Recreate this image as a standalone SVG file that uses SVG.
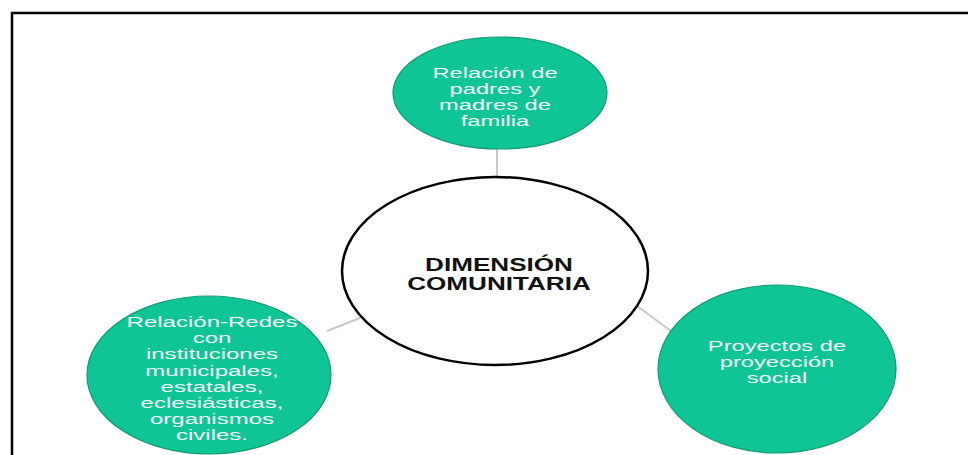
<svg xmlns="http://www.w3.org/2000/svg" width="968" height="455" viewBox="0 0 968 455">
<style>
.green{fill:#0fc596;stroke:#149a74;stroke-width:1.2}
.center{fill:#ffffff;stroke:#000000;stroke-width:2.5}
.conn{stroke:#c9c9c9;stroke-width:2;fill:none}
.gt{font-family:"Liberation Sans",Arial,sans-serif;font-size:15.5px;fill:#f3fbf8;text-anchor:middle}
.ct{font-family:"Liberation Sans",Arial,sans-serif;font-size:18px;font-weight:bold;fill:#111111;text-anchor:middle}
</style>
<rect width="968" height="455" fill="#ffffff"/>
<path d="M12,458 V13 H972" fill="none" stroke="#000" stroke-width="2.5"/>
<g id="connectors">
<line class="conn" x1="497" y1="149" x2="497" y2="178"/>
<line class="conn" x1="327" y1="331" x2="360" y2="318"/>
<line class="conn" x1="633" y1="303" x2="671" y2="331"/>
</g>
<g id="node-top">
<ellipse class="green" cx="500" cy="93" rx="107" ry="56"/>
<g transform="translate(495,0) scale(1.53,1)">
<text class="gt" x="0" y="78">Relación de</text>
<text class="gt" x="0" y="94">padres y</text>
<text class="gt" x="0" y="110">madres de</text>
<text class="gt" x="0" y="126">familia</text>
</g>
</g>
<g id="node-center">
<ellipse class="center" cx="495" cy="271" rx="153" ry="94"/>
<g transform="translate(499,0) scale(1.45,1)">
<text class="ct" x="0" y="271">DIMENSIÓN</text>
<text class="ct" x="0" y="290">COMUNITARIA</text>
</g>
</g>
<g id="node-left">
<ellipse class="green" cx="209" cy="375" rx="122" ry="79"/>
<g transform="translate(212,0) scale(1.55,1)">
<text class="gt" x="0" y="327">Relación-Redes</text>
<text class="gt" x="0" y="343.2">con</text>
<text class="gt" x="0" y="359.4">instituciones</text>
<text class="gt" x="0" y="375.6">municipales,</text>
<text class="gt" x="0" y="391.8">estatales,</text>
<text class="gt" x="0" y="408">eclesiásticas,</text>
<text class="gt" x="0" y="424.2">organismos</text>
<text class="gt" x="0" y="440.4">civiles.</text>
</g>
</g>
<g id="node-right">
<ellipse class="green" cx="777" cy="369" rx="119" ry="84"/>
<g transform="translate(777,0) scale(1.53,1)">
<text class="gt" x="0" y="351">Proyectos de</text>
<text class="gt" x="0" y="367">proyección</text>
<text class="gt" x="0" y="383">social</text>
</g>
</g>
</svg>
